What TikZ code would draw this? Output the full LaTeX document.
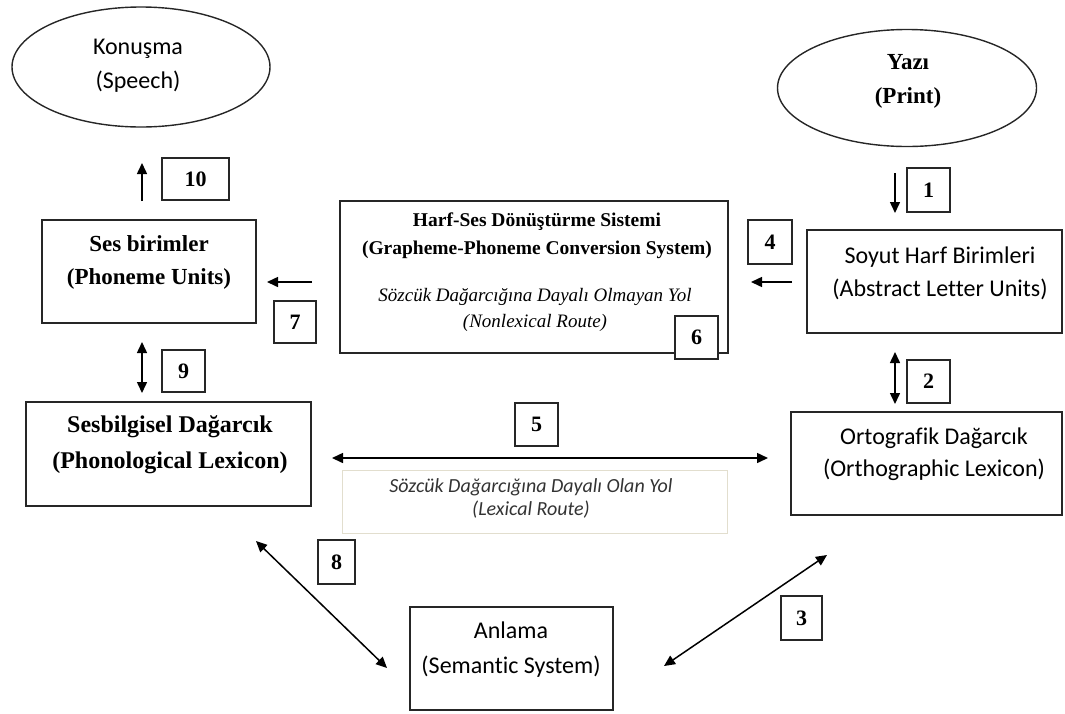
\documentclass[tikz,border=0pt]{standalone}
\usepackage{fontspec}
\setmainfont{Liberation Serif}
\newfontfamily\calfont[Ligatures=NoCommon]{Carlito}
\usetikzlibrary{arrows.meta,shapes.geometric}
\definecolor{lexborder}{RGB}{226,222,206}
\tikzset{
  box/.style={draw=black!85, line width=1.4pt, inner sep=0pt},
  oval/.style={draw=black!85, line width=1.4pt, ellipse, inner sep=0pt},
  num/.style={draw=black!85, line width=1.3pt, inner sep=0pt, font=\bfseries\fontsize{22}{22}\selectfont},
  arr/.style={line width=1.5pt, -{Triangle[length=11pt,width=10pt]}},
  darr/.style={line width=1.5pt, {Triangle[length=11pt,width=10pt]}-{Triangle[length=11pt,width=10pt]}},
  txt/.style={align=center, inner sep=0pt},
}
\begin{document}
\begin{tikzpicture}[x=1pt,y=-1pt]
\useasboundingbox (0,0) rectangle (1065,713);

% ellipses
\node[oval, minimum width=258pt, minimum height=120pt] (speech) at (141,67) {};
\node[txt, font=\calfont\fontsize{24}{34}\selectfont] (speechT) at (138,66) {Konuşma\\(Speech)};
\node[oval, minimum width=259pt, minimum height=117pt] (print) at (907,88) {};
\node[txt, font=\bfseries\fontsize{23}{34}\selectfont] (printT) at (908,81) {Yazı\\(Print)};

% boxes
\node[box, minimum width=214pt, minimum height=103pt] (ses) at (149,271.5) {};
\node[txt, font=\bfseries\fontsize{23}{33}\selectfont] (sesT) at (149,262) {Ses birimler\\(Phoneme Units)};

\node[box, minimum width=285pt, minimum height=104pt] (phon) at (168.5,454) {};
\node[txt, font=\bfseries\fontsize{24}{36}\selectfont] (phonT) at (170,445) {Sesbilgisel Dağarcık\\(Phonological Lexicon)};

\node[box, minimum width=388pt, minimum height=152pt] (gpc) at (534,277) {};
\node[txt, font=\bfseries\fontsize{19.5}{28}\selectfont] (gpcT) at (537,236) {Harf-Ses Dönüştürme Sistemi\\(Grapheme-Phoneme Conversion System)};
\node[txt, font=\itshape\fontsize{19}{26}\selectfont] (gpcI) at (535,310) {Sözcük Dağarcığına Dayalı Olmayan Yol\\(Nonlexical Route)};

\node[box, minimum width=255pt, minimum height=103pt] (alu) at (934.5,281.5) {};
\node[txt, font=\calfont\fontsize{24}{33}\selectfont] (aluT) at (940,273) {Soyut Harf Birimleri\\(Abstract Letter Units)};

\node[box, minimum width=271pt, minimum height=103pt] (orth) at (926.5,463.5) {};
\node[txt, font=\calfont\fontsize{24}{32}\selectfont] (orthT) at (934,454) {Ortografik Dağarcık\\(Orthographic Lexicon)};

\node[box, minimum width=203pt, minimum height=103pt] (sem) at (511.5,658.5) {};
\node[txt, font=\calfont\fontsize{24}{35}\selectfont] (semT) at (511,650) {Anlama\\(Semantic System)};

\node[draw=lexborder, line width=0.8pt, minimum width=385pt, minimum height=63pt, inner sep=0pt] (lex) at (534.5,501.5) {};
\node[txt, font=\calfont\itshape\fontsize{20}{23}\selectfont, text=black!80] (lexT) at (531,498) {Sözcük Dağarcığına Dayalı Olan Yol\\(Lexical Route)};

% number boxes
\node[num, minimum width=67pt, minimum height=42pt] (n10) at (195.5,179) {10};
\node[num, minimum width=43pt, minimum height=44pt] (n1) at (928.5,190) {1};
\node[num, minimum width=44pt, minimum height=44pt] (n4) at (770,242) {4};
\node[num, minimum width=42pt, minimum height=42pt] (n7) at (295,322) {7};
\node[num, minimum width=43pt, minimum height=43pt, fill=white] (n6) at (696.5,337.5) {6};
\node[num, minimum width=43pt, minimum height=42pt] (n9) at (183.5,371) {9};
\node[num, minimum width=43pt, minimum height=43pt] (n2) at (928.5,381.5) {2};
\node[num, minimum width=43pt, minimum height=43pt] (n5) at (536.5,424.5) {5};
\node[num, minimum width=37pt, minimum height=44pt] (n8) at (336.5,562) {8};
\node[num, minimum width=41pt, minimum height=44pt] (n3) at (801.5,618) {3};

% connector end points
\coordinate (a10s) at (142,201); \coordinate (a10e) at (142,163);
\coordinate (a1s) at (895,173);  \coordinate (a1e) at (895,213);
\coordinate (a4s) at (792,282);  \coordinate (a4e) at (751,282);
\coordinate (a7s) at (312,282);  \coordinate (a7e) at (267,282);
\coordinate (a9s) at (142,342);  \coordinate (a9e) at (142,393);
\coordinate (a2s) at (895,352);  \coordinate (a2e) at (895,404);
\coordinate (a5s) at (332,458);  \coordinate (a5e) at (768,458);
\coordinate (a8s) at (256,541);  \coordinate (a8e) at (387,668);
\coordinate (a3s) at (664,666);  \coordinate (a3e) at (827,555);

\draw[arr] (a10s) -- (a10e);
\draw[arr] (a1s) -- (a1e);
\draw[arr] (a4s) -- (a4e);
\draw[arr] (a7s) -- (a7e);
\draw[darr] (a9s) -- (a9e);
\draw[darr] (a2s) -- (a2e);
\draw[darr] (a5s) -- (a5e);
\draw[darr] (a8s) -- (a8e);
\draw[darr] (a3s) -- (a3e);
\end{tikzpicture}
\end{document}
